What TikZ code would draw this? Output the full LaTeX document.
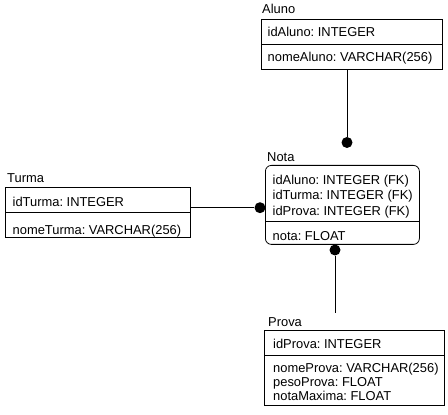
\documentclass[tikz,border=0pt]{standalone}
\usepackage{fontspec}
\setmainfont{Liberation Sans}
\frenchspacing
\begin{document}
\begin{tikzpicture}[x=1pt,y=1pt,
  every node/.style={font=\fontsize{12.9}{15}\selectfont\frenchspacing},
  tbl/.style={draw, line width=0.8pt, inner sep=0pt, anchor=north west},
  row/.style={inner sep=0pt, anchor=west, text height=9.3pt, text depth=0pt},
  ttl/.style={inner sep=0pt, anchor=west, text height=9.3pt, text depth=0pt},
  dot/.style={circle, fill=black, inner sep=0pt, minimum size=11pt},
  conn/.style={line width=0.8pt}]
\useasboundingbox (0,0) rectangle (448,415);
% Aluno
\node[tbl, minimum width=181pt, minimum height=49.5pt] (aluno) at (261,395.5) {};
\draw[conn] (261,370.5) -- (442,370.5);
\node[ttl] (alunoT) at (262,406) {Aluno};
\node[row] (a1) at (267.5,383) {idAluno: INTEGER};
\node[row] (a2) at (267.5,358) {nomeAluno: VARCHAR(256)};
% Nota
\node[tbl, rounded corners=6pt, minimum width=154pt, minimum height=79pt] (nota) at (265,250) {};
\draw[conn] (265,193.3) -- (419,193.3);
\node[ttl] (notaT) at (267,258) {Nota};
\node[row] (n1) at (272.5,235) {idAluno: INTEGER (FK)};
\node[row] (n2) at (272.5,220) {idTurma: INTEGER (FK)};
\node[row] (n3) at (272.5,204.5) {idProva: INTEGER (FK)};
\node[row] (n4) at (272.5,179) {nota: FLOAT};
% Turma
\node[tbl, minimum width=185pt, minimum height=49.4pt] (turma) at (5,227.7) {};
\draw[conn] (5,202.5) -- (190,202.5);
\node[ttl] (turmaT) at (7,236.7) {Turma};
\node[row] (t1) at (12.5,213.3) {idTurma: INTEGER};
\node[row] (t2) at (12.5,185) {nomeTurma: VARCHAR(256)};
% Prova
\node[tbl, minimum width=180pt, minimum height=75pt] (prova) at (264,85) {};
\draw[conn] (264,60) -- (444,60);
\node[ttl] (provaT) at (268,92.7) {Prova};
\node[row] (p1) at (273,71) {idProva: INTEGER};
\node[row] (p2) at (273,47.3) {nomeProva: VARCHAR(256)};
\node[row] (p3) at (273,33.3) {pesoProva: FLOAT};
\node[row] (p4) at (273,19.3) {notaMaxima: FLOAT};
% connectors
\node[dot] (d1) at (347,272.5) {};
\node[dot] (d2) at (260,207.3) {};
\node[dot] (d3) at (335,165) {};
\coordinate (pe) at (335,102);
\draw[conn] (aluno.south -| d1) -- (d1);
\draw[conn] (turma.east |- d2) -- (d2);
\draw[conn] (d3) -- (pe);
\end{tikzpicture}
\end{document}
